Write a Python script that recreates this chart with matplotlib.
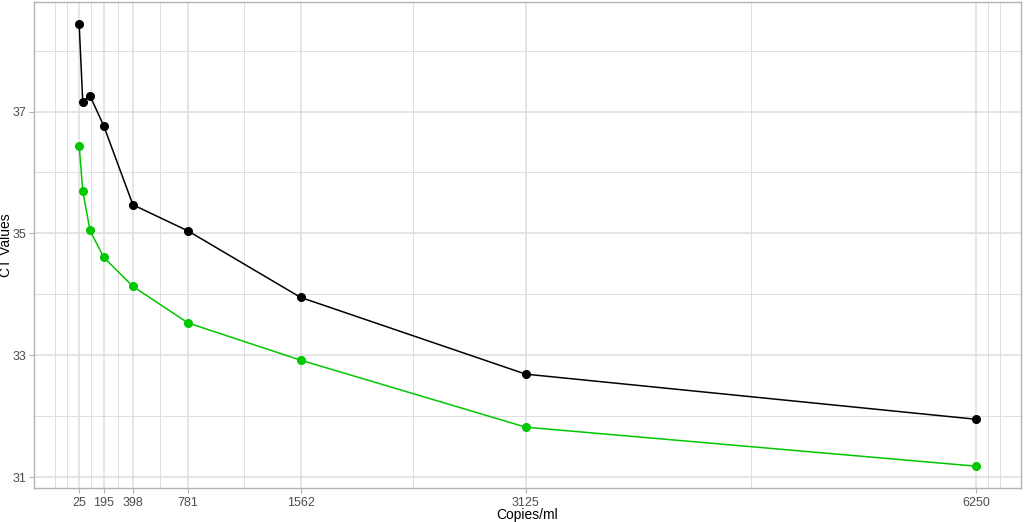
import numpy as np
import matplotlib
matplotlib.use("Agg")
import matplotlib.pyplot as plt

plt.rcParams['font.family'] = ['Liberation Sans', 'DejaVu Sans']

copies = [25, 50, 100, 195, 398, 781, 1562, 3125, 6250]
ct_black = [38.44, 37.16, 37.26, 36.77, 35.47, 35.04, 33.95, 32.69, 31.95]
ct_green = [36.44, 35.70, 35.05, 34.61, 34.13, 33.53, 32.92, 31.82, 31.18]
x_breaks = [25, 195, 398, 781, 1562, 3125, 6250]
y_breaks = [31, 33, 35, 37]

fig = plt.figure(figsize=(10.24, 5.22), dpi=100)
ax = fig.add_axes([0.0335, 0.0646, 0.9633, 0.9322])

# limits like ggplot (5% expansion)
xr = max(copies) - min(copies)
ax.set_xlim(min(copies) - 0.05 * xr, max(copies) + 0.05 * xr)
allv = ct_black + ct_green
yr = max(allv) - min(allv)
ax.set_ylim(min(allv) - 0.05 * yr, max(allv) + 0.05 * yr)

# minor grid the ggplot way
bd = x_breaks[1] - x_breaks[0]
b = [x_breaks[0] - bd] + x_breaks + [x_breaks[-1] + bd]
xminor = [b[0]] + [(b[i] + b[i + 1]) / 2 for i in range(len(b) - 1)] + [b[i] for i in range(1, len(b))]
xminor = [v for v in xminor if v not in x_breaks]
yminor = [30, 32, 34, 36, 38]

for v in xminor:
    ax.axvline(v, color='#dedede', lw=0.7, zorder=0)
for v in yminor:
    ax.axhline(v, color='#dedede', lw=0.7, zorder=0)
for v in x_breaks:
    ax.axvline(v, color='#dedede', lw=1.1, zorder=0)
for v in y_breaks:
    ax.axhline(v, color='#dedede', lw=1.1, zorder=0)

ax.plot(copies, ct_black, color='black', lw=1.1, marker='o', ms=5.5, zorder=3)
ax.plot(copies, ct_green, color='#00c800', lw=1.1, marker='o', ms=5.5, zorder=3)

ax.set_xticks(x_breaks)
ax.set_xticklabels([str(v) for v in x_breaks])
ax.set_yticks(y_breaks)
ax.tick_params(axis='both', colors='#b3b3b3', labelcolor='#4d4d4d', labelsize=9,
               length=3.5, width=0.8, pad=2.5)
for s in ax.spines.values():
    s.set_color('#b3b3b3')
    s.set_linewidth(1.0)

ax.set_xlabel('Copies/ml', fontsize=10, labelpad=-0.5)
fig.text(6.5 / 1024, 0.5307, 'CT Values', rotation=90, ha='center', va='center', fontsize=10)

fig.savefig('out.png', dpi=100)
